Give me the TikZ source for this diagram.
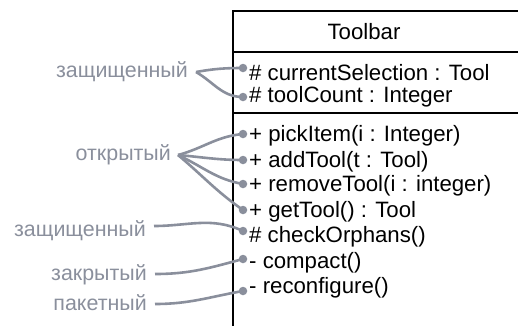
\documentclass[tikz,border=0pt]{standalone}
\usepackage{fontspec}
\setmainfont{Liberation Sans}
\definecolor{lblgray}{HTML}{8A8F9C}
\begin{document}
\begin{tikzpicture}[x=1bp,y=-1bp,
  member/.style={anchor=west,inner sep=0pt,font=\fontsize{22.3}{24}\selectfont},
  lbl/.style={anchor=east,inner sep=0pt,text=lblgray,font=\fontsize{21.5}{24}\selectfont},
  conn/.style={draw=lblgray,line width=2.6bp},
  dotmark/.style={circle,fill=lblgray,inner sep=0pt,minimum size=8.5bp},
  boxline/.style={line width=2.4bp}]
\useasboundingbox (0,0) rectangle (518,325);
% class box
\coordinate (tl) at (233,11);
\draw[boxline] (518,11) -- (tl) -- (233,326);
\draw[boxline] (233,52) -- (518,52);
\draw[boxline] (233,113) -- (518,113);
\node[inner sep=0pt,font=\fontsize{22.3}{24}\selectfont] (title) at (364,32) {Toolbar};
% members
\node[member] (m1) at (249,73) {\# currentSelection : Tool};
\node[member] (m2) at (249,97) {\# toolCount : Integer};
\node[member] (o1) at (249,136) {+ pickItem(i : Integer)};
\node[member] (o2) at (249,162) {+ addTool(t : Tool)};
\node[member] (o3) at (249,186) {+ removeTool(i : integer)};
\node[member] (o4) at (249,212) {+ getTool() : Tool};
\node[member] (o5) at (249,237) {\# checkOrphans()};
\node[member] (o6) at (249,263) {- compact()};
\node[member] (o7) at (249,288) {- reconfigure()};
% dots
\node[dotmark] (d1) at (243,68) {};
\node[dotmark] (d2) at (243,97) {};
\node[dotmark] (d3) at (243,134) {};
\node[dotmark] (d4) at (243,160) {};
\node[dotmark] (d5) at (243,184) {};
\node[dotmark] (d6) at (243,210) {};
\node[dotmark] (d7) at (243,231) {};
\node[dotmark] (d8) at (243,259) {};
\node[dotmark] (d9) at (243,291) {};
% labels
\node[lbl] (l1) at (188,72) {защищенный};
\node[lbl] (l2) at (171,155) {открытый};
\node[lbl] (l3) at (146,231) {защищенный};
\node[lbl] (l4) at (147,275) {закрытый};
\node[lbl] (l5) at (147,303) {пакетный};
% anchor points
\coordinate (a1) at (196,72);
\coordinate (a2) at (178,155);
\coordinate (a3) at (154,226);
\coordinate (a4) at (155,274);
\coordinate (a5) at (155,304);
% connectors
\draw[conn] (a1) to[out=10,in=180] (d1.center);
\draw[conn] (a1) to[out=-30,in=180] (d2.center);
\draw[conn] (a2) to[out=15,in=185] (d3.center);
\draw[conn] (a2) to[out=-5,in=180] (d4.center);
\draw[conn] (a2) to[out=-25,in=170] (d5.center);
\draw[conn] (a2) to[out=-40,in=145] (d6.center);
\draw[conn] (a3) to[out=0,in=155] (d7.center);
\draw[conn] (a4) to[out=0,in=195] (d8.center);
\draw[conn] (a5) to[out=0,in=190] (d9.center);
\end{tikzpicture}
\end{document}
